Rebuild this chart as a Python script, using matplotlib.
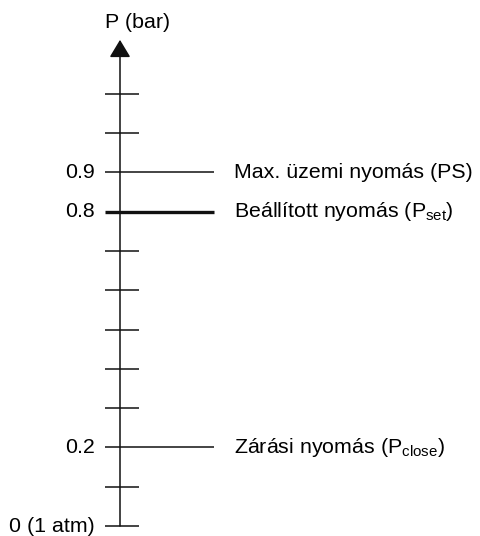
import numpy as np
import matplotlib
matplotlib.use('Agg')
import matplotlib.pyplot as plt

plt.rcParams['font.family'] = ['Liberation Sans', 'DejaVu Sans']
plt.rcParams['mathtext.default'] = 'regular'

# pressure scale (bar)
tick_values = [0.0, 0.1, 0.2, 0.3, 0.4, 0.5, 0.6, 0.7, 0.8, 0.9, 1.0, 1.1]
axis_top = 1.237

# labelled levels
levels = [0.9, 0.8, 0.2]
level_names = ['Max. üzemi nyomás (PS)',
               'Beállított nyomás (P$_{set}$)',
               'Zárási nyomás (P$_{close}$)']
level_widths = [1.1, 2.4, 1.1]

tick_labels = {0.9: '0.9', 0.8: '0.8', 0.2: '0.2', 0.0: '0 (1 atm)'}

fig = plt.figure(figsize=(4.8, 5.36), dpi=100)
ax = fig.add_axes([0, 0, 1, 1])
ax.set_xlim(0, 480)
px = 393.0  # pixels per bar
ax.set_ylim(-10 / px, (536 - 10) / px)
ax.axis('off')

x0 = 120
fs = 15.4

# axis with arrow head
ax.annotate('', xy=(x0, axis_top), xytext=(x0, 0),
            arrowprops=dict(arrowstyle='-|>,head_length=1.08,head_width=0.65',
                            mutation_scale=10, lw=1.1, color='#111111',
                            shrinkA=0, shrinkB=0))

for v in tick_values:
    if v in levels:
        continue
    ax.plot([105, 139], [v, v], color='#111111', lw=1.1, solid_capstyle='butt')

for v, name, w in zip(levels, level_names, level_widths):
    ax.plot([105, 214], [v, v], color='#111111', lw=w, solid_capstyle='butt')
    ax.text(234, v, name, ha='left', va='center', fontsize=fs)

for v, lab in tick_labels.items():
    ax.text(95, v, lab, ha='right', va='center', fontsize=fs)

ax.text(138, (536 - 10 - 22) / px, 'P (bar)', ha='center', va='center', fontsize=fs)

fig.savefig('out.png', dpi=100)
